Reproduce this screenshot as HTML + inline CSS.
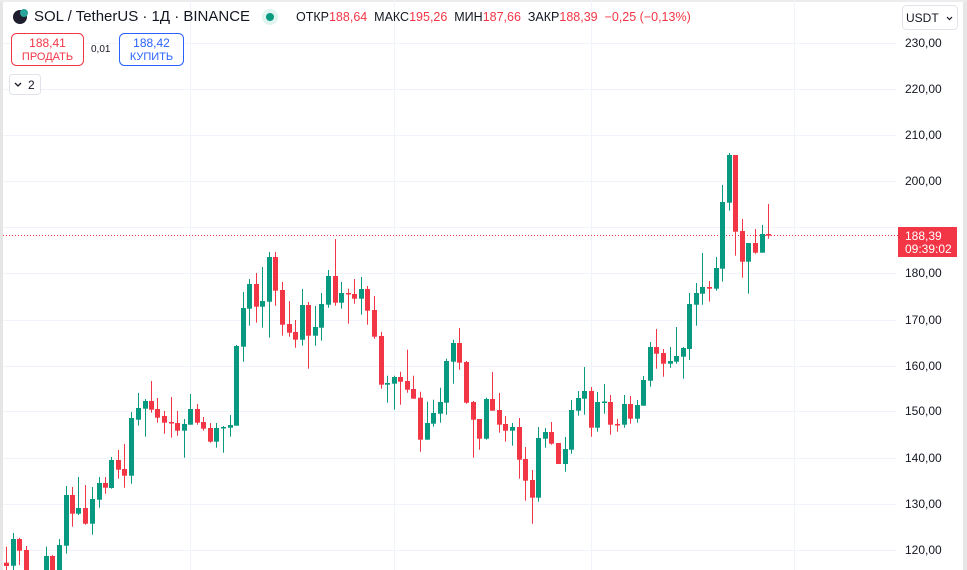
<!DOCTYPE html>
<html><head><meta charset="utf-8"><style>
html,body{margin:0;padding:0;background:#fff;}
body{width:967px;height:570px;position:relative;overflow:hidden;font-family:"Liberation Sans","DejaVu Sans",sans-serif;}
.t{position:absolute;white-space:nowrap;}
</style></head><body>
<svg id="s" width="967" height="570" style="position:absolute;left:0;top:0">
<rect x="0" y="0" width="967" height="570" fill="#fff"/>
<rect x="0" y="0" width="3" height="570" fill="#e6e6e6"/>
<rect x="963" y="0" width="4" height="570" fill="#e6e6e6"/>
<rect x="0" y="0" width="967" height="2" fill="#ececec"/>
<g stroke="#f0f3fa" stroke-width="1">
<line x1="3" x2="896" y1="43.5" y2="43.5"/><line x1="3" x2="896" y1="89.5" y2="89.5"/>
<line x1="3" x2="896" y1="135.5" y2="135.5"/><line x1="3" x2="896" y1="181.5" y2="181.5"/>
<line x1="3" x2="896" y1="227.5" y2="227.5"/><line x1="3" x2="896" y1="273.5" y2="273.5"/>
<line x1="3" x2="896" y1="320.5" y2="320.5"/><line x1="3" x2="896" y1="366.5" y2="366.5"/>
<line x1="3" x2="896" y1="411.5" y2="411.5"/><line x1="3" x2="896" y1="458.5" y2="458.5"/>
<line x1="3" x2="896" y1="504.5" y2="504.5"/><line x1="3" x2="896" y1="550.5" y2="550.5"/>
<line x1="190.5" x2="190.5" y1="0" y2="570"/><line x1="394.5" x2="394.5" y1="0" y2="570"/>
<line x1="591.5" x2="591.5" y1="0" y2="570"/><line x1="794.5" x2="794.5" y1="0" y2="570"/>
</g>
<line x1="3" x2="898" y1="235.5" y2="235.5" stroke="#f23645" stroke-width="1" stroke-dasharray="1,2"/>
<g id="c"></g>
<rect x="898" y="227" width="59" height="30" fill="#f23645"/>
<text x="905" y="240" font-size="12" fill="#fff" font-family="Liberation Sans,sans-serif">188,39</text>
<text x="905" y="253" font-size="12" fill="#fff" font-family="Liberation Sans,sans-serif">09:39:02</text>
<g font-size="12" fill="#131722" font-family="Liberation Sans,sans-serif">
<text x="905" y="47">230,00</text><text x="905" y="93">220,00</text><text x="905" y="139">210,00</text>
<text x="905" y="185">200,00</text><text x="905" y="277">180,00</text><text x="905" y="324">170,00</text>
<text x="905" y="370">160,00</text><text x="905" y="415">150,00</text><text x="905" y="462">140,00</text>
<text x="905" y="508">130,00</text><text x="905" y="554">120,00</text>
</g>
<rect x="902.5" y="5.5" width="55" height="24" rx="4" fill="#fff" stroke="#e0e3eb"/>
<text x="906" y="22" font-size="12" fill="#131722" font-family="Liberation Sans,sans-serif">USDT</text>
<path d="M947 17l2.5 2.5 2.5-2.5" stroke="#131722" fill="none" stroke-width="1.2"/>
<circle cx="20" cy="17" r="7" fill="#1e1e2e"/><circle cx="24" cy="13" r="4" fill="#2aa39a"/>
<circle cx="270" cy="17" r="8" fill="#dff3ef"/><circle cx="270" cy="17" r="4" fill="#089981"/>
<rect x="11.5" y="33.5" width="72" height="32" rx="5" fill="#fff" stroke="#f23645"/>
<rect x="119.5" y="33.5" width="64" height="32" rx="5" fill="#fff" stroke="#2962ff"/>
<rect x="9.5" y="74.5" width="31" height="20" rx="3" fill="#fff" stroke="#e0e3eb"/>
<path d="M15 83l3 3 3-3" stroke="#131722" fill="none" stroke-width="1.3"/>
</svg>
<div class="t" style="left:34px;top:8px;font-size:15px;color:#131722">SOL / TetherUS · 1Д · BINANCE</div>
<div class="t" style="left:296px;top:10px;font-size:12.5px;color:#131722">ОТКР<span style="color:#f23645">188,64</span>&nbsp; МАКС<span style="color:#f23645">195,26</span>&nbsp; МИН<span style="color:#f23645">187,66</span>&nbsp; ЗАКР<span style="color:#f23645">188,39&nbsp; −0,25 (−0,13%)</span></div>
<div class="t" style="left:11px;top:36px;width:73px;text-align:center;font-size:12px;color:#f23645">188,41</div>
<div class="t" style="left:11px;top:51px;width:73px;text-align:center;font-size:11px;color:#f23645">ПРОДАТЬ</div>
<div class="t" style="left:91px;top:44px;font-size:10px;color:#131722">0,01</div>
<div class="t" style="left:119px;top:36px;width:65px;text-align:center;font-size:12px;color:#2962ff">188,42</div>
<div class="t" style="left:119px;top:51px;width:65px;text-align:center;font-size:11px;color:#2962ff">КУПИТЬ</div>
<div class="t" style="left:28px;top:78px;font-size:12px;color:#131722">2</div>
<script>
var G='#089981',R='#f23645';
var d=[
[6,562.7,566,546.7,570,R],[13.3,539,565.7,533,570,G],[19.3,539,550.7,537.7,565,R],[26.3,550,575,546,575,R],
[46.3,556,575,546.7,575,G],[52.3,556,575,555,575,R],[59.3,545,575,539,575,G],[65.7,495,545.7,486,553.7,G],
[72.3,495,513.7,487,526.7,R],[78.3,508,513.7,477,515,G],[85.3,508,523.7,485,524.7,R],[92.3,499,523.7,487,534.7,G],
[98.7,483,499.7,477,507.7,G],[105.3,483,487.7,477,493.7,R],[111.3,460,488,457,488.7,G],[118,460,469.7,450,478.7,R],
[124.3,469,475.7,444,487.7,R],[131.3,418,475.7,412,483.7,G],[138.3,408,419.7,393,425.7,G],[144.7,401,408.7,399,436.7,G],
[151.3,401,409.7,381,412.7,R],[157.3,409,417.7,398,422.7,R],[164.3,416,422.7,411,433.7,R],[170.7,422,423,397,437.7,R],
[177.3,423,430.7,411,435.7,R],[184.3,424,430.7,419,457.7,G],[190.3,409,424.7,394,424.7,G],[197.3,409,422.7,404,424.7,R],
[203.3,422,428.7,417,430.7,R],[210.3,428,441.7,423,442.7,R],[216.3,428,441.7,423,447.7,G],[223.3,427,428,426,452.7,G],
[230.3,425,427.7,415,436.7,G],[236.3,346,425.7,345,425.7,G],[243.3,308,346.7,292,361.7,G],[249.3,284,308.7,279,325.7,G],
[256.3,284,306.7,273,322.7,R],[262.3,301,306.7,267,327.7,G],[269.3,257,301.7,252,337.7,G],[275.3,257,290.7,252,305.7,R],
[282.3,290,324.7,282,335.7,R],[289.3,324,332.7,301,336.7,R],[295.3,332,339.7,320,347.7,R],[302.3,305,339.7,289,345.7,G],
[308.3,305,335.7,302,368.7,R],[315.3,327,335.7,306,345.7,G],[321.3,304,327.7,293,340.7,G],[328.3,276,304.7,270,307.7,G],
[335.3,276,302.7,239,305.7,R],[341.3,293,302.7,282,308.7,G],[348.3,293,294,288.7,323.7,R],[354.3,294,298.7,279,303.7,R],
[361.3,289,298.7,277,314.7,G],[367.3,289,310.7,286,324.7,R],[374.3,310,336.7,296,338.7,R],[381.3,336,384.7,332,388.7,R],
[387.3,383,384.7,375.7,402.7,G],[394.3,377,383.7,375.7,409.7,G],[400.3,377,381.7,371.7,404.7,R],[407.3,381,389.7,349.7,392.7,R],
[413.3,389,398.7,375.7,398.7,R],[420.3,397.7,439.7,391.7,451.7,R],[427.3,423,439.7,401.7,439.7,G],[433.3,413,423.7,399.7,426.7,G],
[440.3,402,413.7,387.7,422.7,G],[446.3,361,402.7,358.7,414.7,G],[453.3,343,361.7,339.7,383.7,G],[459.3,343,362.7,328,369.7,R],
[466.3,362,402.7,361,403.7,R],[473.3,402,419.7,401,457.7,R],[479.3,419,438.7,419,449.7,R],[486.3,399,438.7,397.7,439.7,G],
[492.3,399,410.7,372,410.7,R],[499.3,410,424.7,393,432.7,R],[505.3,424,430.7,416,441.7,R],[512.3,427,430.7,423,445.7,G],
[519.3,427,459.7,418,478.7,R],[525.3,459,480.7,447,500.7,R],[532.3,480,497.7,470,523.7,R],[538.3,438,497.7,427,501.7,G],
[545.3,432,438.7,428,447.7,G],[551.3,432,443.7,422,444.7,R],[558.3,443,464,443,464,R],[565.3,449,464,437,471.7,G],
[571.3,410,449.7,400,453.7,G],[578.3,398,410.7,391,415.7,G],[584.3,391,398.7,367,414.7,G],[591.3,391,427.7,387,436.7,R],
[597.3,402,427.7,392,431.7,G],[604.3,401.5,402.7,384,413.7,G],[610.3,402,424.7,395,434.7,R],[617.3,424,425,419,431.7,R],
[624.3,404,424.7,395,427.7,G],[630.3,404,418.7,396,423.7,R],[637.3,405,418.7,400,422.7,G],[643.3,380,405.7,376,405.7,G],
[650.3,347,380.7,342,386.7,G],[656.3,347,353.7,329,368.7,R],[663.3,353,363.7,349,376.7,R],[670.3,361,363.7,347,367.7,G],
[676.3,356,361.7,327,363.7,G],[683.3,348,356.7,347,378.7,G],[689.3,304,349,293,360,G],[696.3,293,304.7,283,325.7,G],
[702.3,287,293.7,253,304.7,G],[709.3,287,288.7,281,301.7,R],[716.3,268,288.7,257,290.7,G],[722.3,202,268.7,185,281.7,G],
[729.3,155,202.7,153,210.7,G],[735.3,155,231.7,155,255.7,R],[742.3,231,261.7,219,277.7,R],[748.3,243,261.7,243,293.7,G],
[755.3,243,252.7,229,253.7,R],[762.3,234,252.7,225,252.7,G],[768.3,234,235.7,204,238.7,R]];
var h='';
d.forEach(function(c){var x=Math.round(c[0]);var bh=Math.max(1.5,c[2]-c[1]);
h+='<rect x="'+x+'" y="'+c[3]+'" width="1" height="'+(c[4]-c[3])+'" fill="'+c[5]+'"/>';
h+='<rect x="'+(x-2)+'" y="'+c[1]+'" width="5" height="'+bh+'" fill="'+c[5]+'"/>';});
document.getElementById('c').innerHTML=h;
</script>
</body></html>
